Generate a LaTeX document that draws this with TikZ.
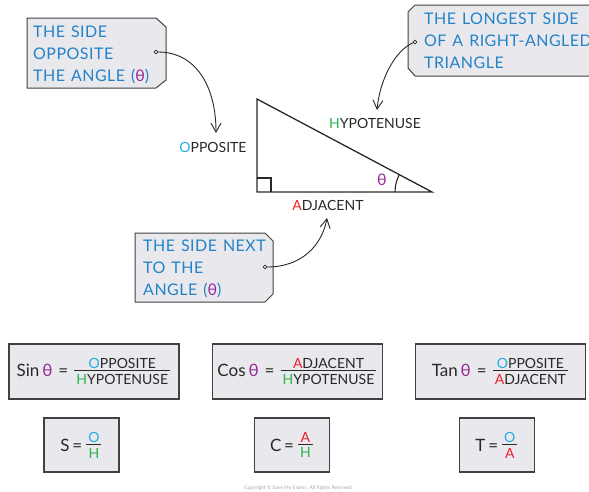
\documentclass[tikz,border=0pt]{standalone}
\usepackage{amsmath}
\usepackage{fontspec}
\setmainfont{Lato}
\newfontfamily\tagfont[LetterSpace=3,WordSpace=1.3]{Lato}
\usetikzlibrary{arrows.meta}
\definecolor{tagblue}{RGB}{35,130,200}
\definecolor{oblue}{RGB}{40,170,228}
\definecolor{hgreen}{RGB}{40,180,75}
\definecolor{ared}{RGB}{240,30,40}
\definecolor{thpurple}{RGB}{150,40,150}
\definecolor{boxfill}{RGB}{233,233,237}
\definecolor{boxdraw}{RGB}{65,65,65}
\definecolor{labgray}{RGB}{40,40,40}
\newcommand\cO{\textcolor{oblue}{O}}
\newcommand\cH{\textcolor{hgreen}{H}}
\newcommand\cA{\textcolor{ared}{A}}
\newcommand\cTh{\textcolor{thpurple}{θ}}
\newcommand\bigfr[2]{\raisebox{2pt}{\fontsize{14}{16}\selectfont$\genfrac{}{}{1.2pt}{1}{\mbox{\kern1pt #1\kern1pt}}{\mbox{\rule{0pt}{12.5pt}\kern2pt #2\kern2pt}}$}}
\newcommand\smfr[2]{\raisebox{3.5pt}{\fontsize{14}{16}\selectfont$\genfrac{}{}{1.2pt}{1}{\mbox{\kern2pt #1\kern2pt}}{\mbox{\rule{0pt}{12pt}\kern2pt #2\kern2pt}}$}}
\begin{document}
\begin{tikzpicture}[x=1pt,y=-1pt,
  tagshape/.style={draw=boxdraw,fill=boxfill,line width=1pt,line join=round},
  tagtext/.style={text=tagblue,inner sep=0pt,align=left,anchor=west,font=\tagfont\fontsize{16}{22}\selectfont},
  hole/.style={circle,draw=labgray,fill=white,line width=0.7pt,minimum size=3.6pt,inner sep=0pt},
  arr/.style={draw=labgray,line width=0.9pt,-{Straight Barb[length=9pt,width=10pt,line width=0.9pt]}},
  tri/.style={draw=labgray,line width=1.3pt,line join=miter},
  lab/.style={text=labgray,inner sep=0pt,font=\fontsize{14}{16}\selectfont},
  fbox/.style={draw=boxdraw,fill=boxfill,line width=1.1pt,text=labgray,inner sep=0pt},
  bigbox/.style={fbox,minimum width=170pt,minimum height=55pt,font=\fontsize{17}{20}\selectfont},
  smbox/.style={fbox,minimum width=75pt,minimum height=54pt,font=\fontsize{17}{20}\selectfont}
]
\useasboundingbox (0,0) rectangle (589,491);
% tags
\draw[tagshape] (27,18) -- (156,18) -- (166,27) -- (166,80) -- (156,88) -- (27,88) -- cycle;
\node[tagtext] (t1) at (33,55) {THE SIDE\\OPPOSITE\\THE ANGLE (\cTh)};
\draw[tagshape] (415,5) -- (595,5) -- (595,76) -- (415,76) -- (408,68) -- (408,12) -- cycle;
\node[tagtext] (t2) at (424,41) {THE LONGEST SIDE\\OF A RIGHT-ANGLED\\TRIANGLE};
\draw[tagshape] (135,233) -- (265,233) -- (273,241) -- (273,294) -- (265,302) -- (135,302) -- cycle;
\node[tagtext] (t3) at (143,269) {THE SIDE NEXT\\TO THE\\ANGLE (\cTh)};
\node[hole] (h1) at (156,52) {};
\node[hole] (h2) at (415,42) {};
\node[hole] (h3) at (265,267) {};
% triangle
\coordinate (A) at (257,99);
\coordinate (B) at (257,192);
\coordinate (C) at (432,192);
\draw[tri] (A) -- (B) -- (C) -- cycle;
\draw[draw=labgray,line width=1.1pt] (257,178) -- (271,178) -- (271,192);
\draw[draw=labgray,line width=1.1pt] (395,192) arc[start angle=180,end angle=152,radius=37pt];
\node[text=thpurple,inner sep=0pt,font=\fontsize{16}{16}\selectfont] (th) at (382,180) {θ};
\node[lab] (hyp) at (375,123) {\cH YPOTENUSE};
\node[lab] (opp) at (213,147) {\cO PPOSITE};
\node[lab] (adj) at (328,205) {\cA DJACENT};
% arrows
\coordinate (a1) at (216,133);
\coordinate (a2) at (377,110);
\coordinate (a3) at (327,218);
\draw[arr] (h1) .. controls (195,52) and (216,85) .. (a1);
\draw[arr] (h2) .. controls (396,50) and (380,78) .. (a2);
\draw[arr] (h3) .. controls (302,267) and (322,245) .. (a3);
% formula boxes
\node[bigbox] (sinb) at (94,371.5) {Sin\,\cTh\hspace{6pt}=\hspace{5pt}\bigfr{\cO PPOSITE}{\cH YPOTENUSE}};
\node[bigbox] (cosb) at (297.5,371.5) {Cos\,\cTh\hspace{6pt}=\hspace{5pt}\bigfr{\cA DJACENT}{\cH YPOTENUSE}};
\node[bigbox] (tanb) at (500.5,371.5) {Tan\,\cTh\hspace{6pt}=\hspace{5pt}\bigfr{\cO PPOSITE}{\cA DJACENT}};
\node[smbox] (sb) at (81.5,445) {S\,=\,\smfr{\cO}{\cH}};
\node[smbox] (cb) at (292,445) {C\,=\,\smfr{\cA}{\cH}};
\node[smbox] (tb) at (497,445) {T\,=\,\smfr{\cO}{\cA}};
\node[text=black!35,inner sep=0pt,font=\fontsize{5}{6}\selectfont] (copy) at (298,488) {Copyright © Save My Exams. All Rights Reserved};
\end{tikzpicture}
\end{document}
